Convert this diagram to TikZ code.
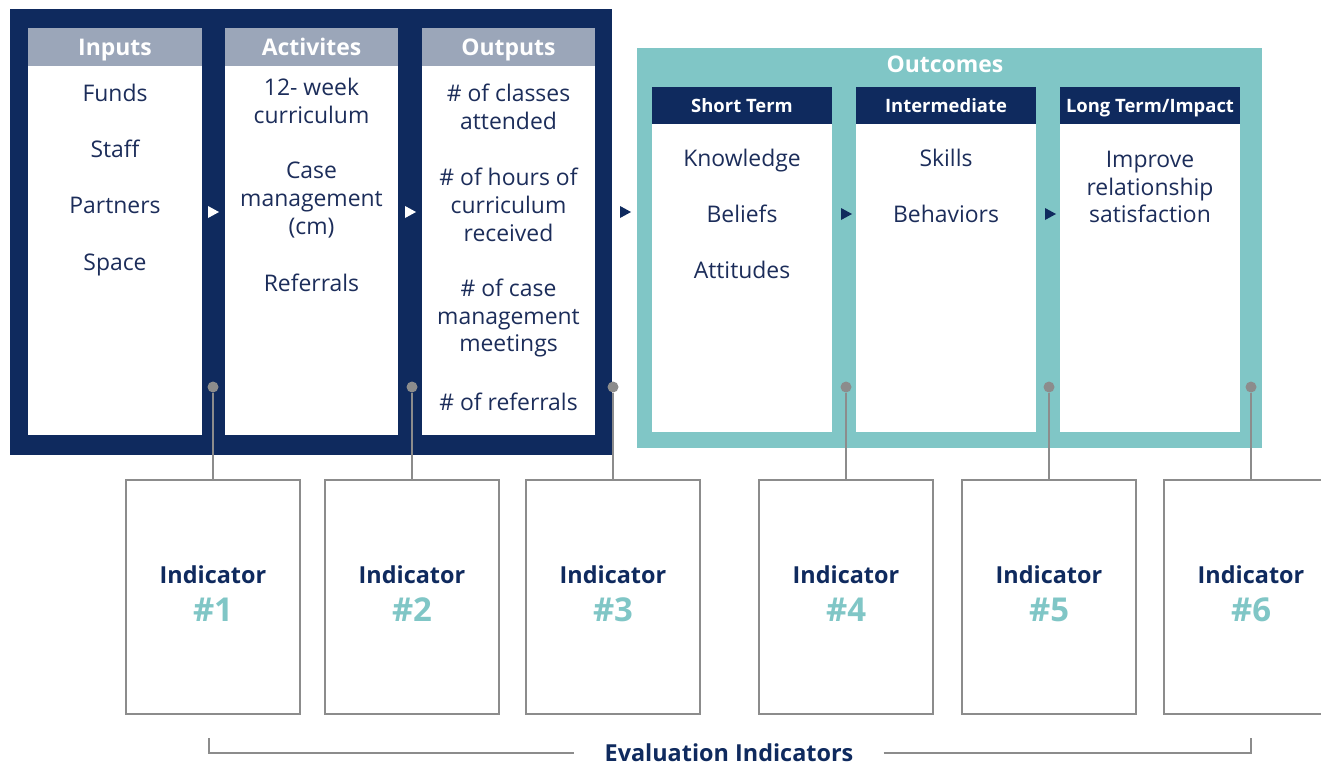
\documentclass[tikz,border=0pt]{standalone}
\usepackage{fontspec}
\setmainfont{Open Sans}
\definecolor{navy}{HTML}{0F2A5E}
\definecolor{txt}{HTML}{1C2D5A}
\definecolor{teal}{HTML}{80C6C6}
\definecolor{hdrgray}{HTML}{9BA6B9}
\definecolor{linegray}{HTML}{8C8C8C}
\tikzset{
  item/.style={text=txt, font=\fontsize{23}{28}\selectfont, align=center, inner sep=0},
  oneline/.style={item, text height=16.5bp, text depth=0pt},
  hdr/.style={text=white, font=\bfseries\fontsize{23}{26}\selectfont, inner sep=0, text height=16.5bp, text depth=0pt},
  subhdr/.style={text=white, font=\bfseries\fontsize{18.5}{22}\selectfont, inner sep=0, text height=13.3bp, text depth=0pt},
  indbox/.style={draw=linegray, line width=1.8bp, fill=white, minimum width=174bp, minimum height=234bp, inner sep=0},
  indword/.style={text=navy, font=\bfseries\fontsize{23.5}{27}\selectfont, inner sep=0, text height=16.9bp, text depth=0pt},
  indnum/.style={text=teal, font=\bfseries\fontsize{33}{36}\selectfont, inner sep=0, text height=23.8bp, text depth=0pt},
  dotnode/.style={circle, fill=linegray, inner sep=0, minimum size=11bp},
  link/.style={draw=linegray, line width=1.8bp},
  evlabel/.style={text=navy, font=\bfseries\fontsize{23.5}{27}\selectfont, inner xsep=30bp, inner ysep=0, text height=16.9bp, text depth=0pt}
}
\begin{document}
\begin{tikzpicture}[x=1bp,y=-1bp]
\useasboundingbox (0,0) rectangle (1321,765);
\clip (0,0) rectangle (1321,765);
% ---------- left navy block ----------
\fill[navy] (10,9) rectangle (612,455);
\foreach \xa/\xb in {28/202, 225/398, 422/595}{
  \fill[hdrgray] (\xa,28) rectangle (\xb,66);
  \fill[white] (\xa,66) rectangle (\xb,435);
}
\node[hdr] (hin) at (115,47) {Inputs};
\node[hdr] (hac) at (311.5,47) {Activites};
\node[hdr] (hou) at (508.5,47) {Outputs};
% inputs
\node[oneline] (in1) at (115,93) {Funds};
\node[oneline] (in2) at (115,149) {Staff};
\node[oneline] (in3) at (115,205) {Partners};
\node[oneline] (in4) at (115,262) {Space};
% activities
\node[item] (ac1) at (311.5,101) {12- week\\curriculum};
\node[item] (ac2) at (311.5,200) {Case\\management\\(cm)};
\node[oneline] (ac3) at (311.5,283) {Referrals};
% outputs
\node[item] (ou1) at (508.5,107) {\# of classes\\attended};
\node[item] (ou2) at (508.5,205) {\# of hours of\\curriculum\\received};
\node[item] (ou3) at (508.5,318) {\# of case\\management\\meetings};
\node[oneline] (ou4) at (508.5,402) {\# of referrals};
% white arrows
\fill[white] (208,206) -- (219,212) -- (208,218) -- cycle;
\fill[white] (405,206) -- (416,212) -- (405,218) -- cycle;
% navy arrow to outcomes
\fill[navy] (620,206) -- (631,212) -- (620,218) -- cycle;
% ---------- outcomes teal block ----------
\fill[teal] (637,48) rectangle (1262,448);
\node[hdr] (hoc) at (945,64) {Outcomes};
\foreach \xa/\xb in {652/832, 856/1036, 1060/1240}{
  \fill[navy] (\xa,87) rectangle (\xb,124);
  \fill[white] (\xa,124) rectangle (\xb,432);
}
\node[subhdr] (hst) at (742,106) {Short Term};
\node[subhdr] (him) at (946,106) {Intermediate};
\node[subhdr] (hlt) at (1150,106) {Long Term/Impact};
\node[oneline] (st1) at (742,158) {Knowledge};
\node[oneline] (st2) at (742,214) {Beliefs};
\node[oneline] (st3) at (742,270) {Attitudes};
\node[oneline] (im1) at (946,158) {Skills};
\node[oneline] (im2) at (946,214) {Behaviors};
\node[item] (lt1) at (1150,187) {Improve\\relationship\\satisfaction};
\fill[navy] (841,208) -- (852,214) -- (841,220) -- cycle;
\fill[navy] (1045,208) -- (1056,214) -- (1045,220) -- cycle;
% ---------- indicators ----------
\foreach \i/\x in {1/213, 2/412, 3/613, 4/846, 5/1049, 6/1251}{
  \node[indbox] (ind\i) at (\x,597) {};
  \node[indword] (iw\i) at (\x,575) {Indicator};
  \node[indnum] (in\i) at (\x,610) {\#\i};
  \node[dotnode] (d\i) at (\x,387) {};
  \draw[link] (d\i.south) -- (ind\i.north);
}
% ---------- evaluation bracket ----------
\node[evlabel] (ev) at (729,753) {Evaluation Indicators};
\coordinate (bl) at (209,738);
\coordinate (br) at (1251,738);
\draw[link] (bl) |- (ev.west);
\draw[link] (ev.east) -| (br);
\end{tikzpicture}
\end{document}
